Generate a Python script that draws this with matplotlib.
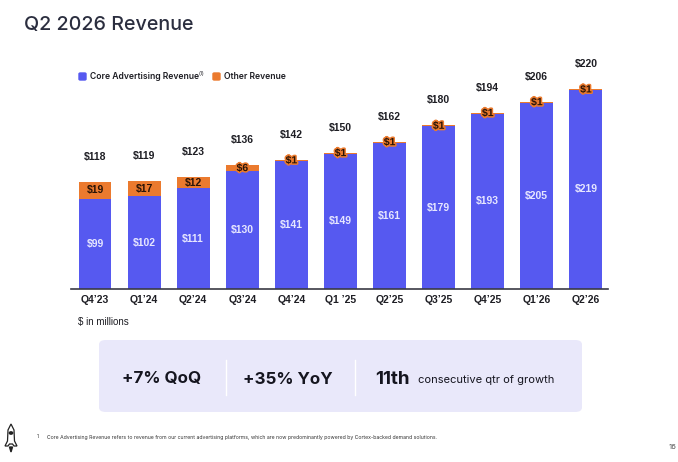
import matplotlib
matplotlib.use("Agg")
import matplotlib.pyplot as plt
import matplotlib.patheffects as pe
from matplotlib import font_manager
from matplotlib.patches import FancyBboxPatch, Polygon, Circle

# -- data ($ in millions) --
quarters = ["Q4’23", "Q1’24", "Q2’24", "Q3’24", "Q4’24", "Q1 ’25",
            "Q2’25", "Q3’25", "Q4’25", "Q1’26", "Q2’26"]
core = [99, 102, 111, 130, 141, 149, 161, 179, 193, 205, 219]
other = [19, 17, 12, 6, 1, 1, 1, 1, 1, 1, 1]
totals = [118, 119, 123, 136, 142, 150, 162, 180, 194, 206, 220]

# -- palette --
BLUE = "#5659F0"
ORANGE = "#EB7A2E"
INK = "#1E1E24"
TITLE = "#2B2E3F"
CORE_TXT = "#E6E6FF"
OTHER_TXT = "#2A1406"
BOX = "#E9E8FA"

W, H = 678, 462

names = {f.name for f in font_manager.fontManager.ttflist}
NARROW = "Liberation Sans Narrow" if "Liberation Sans Narrow" in names else "Liberation Sans"
SANS = "Inter" if "Inter" in names else "DejaVu Sans"


def fx(px):
    return px / W


def fy(py):
    return 1 - py / H


fig = plt.figure(figsize=(W / 100, H / 100), dpi=100)
fig.patch.set_facecolor("white")

ax = fig.add_axes([fx(71), fy(289), fx(608) - fx(71), fy(50) - fy(289)])
ax.set_xlim(-0.49, 10.45)
ax.set_ylim(0, 239 / 0.909)

x = list(range(len(quarters)))
ax.bar(x, core, width=0.67, color=BLUE, zorder=2)
ax.bar(x, other, bottom=core, width=0.67, color=ORANGE, zorder=2)

for i in x:
    ax.annotate(f"${totals[i]}", xy=(i, totals[i]), xytext=(0, 18),
                textcoords="offset points", ha="center", va="center",
                fontsize=7.5, fontweight="bold", color=INK, family=NARROW)
    ax.text(i, core[i] / 2, f"${core[i]}", ha="center", va="center",
            fontsize=7.5, fontweight="bold", color=CORE_TXT, family=NARROW)
    t = ax.text(i, core[i] + other[i] / 2, f"${other[i]}", ha="center",
                va="center", fontsize=7.5, fontweight="bold",
                color=OTHER_TXT, family=NARROW)
    if other[i] < 8:
        t.set_path_effects([pe.withStroke(linewidth=2.2, foreground=ORANGE)])

ax.set_xticks(x)
ax.set_xticklabels(quarters, fontsize=7.5, fontweight="bold", color=INK,
                   family=NARROW)
ax.tick_params(axis="x", length=0, pad=4)
ax.set_yticks([])
for s in ["top", "right", "left"]:
    ax.spines[s].set_visible(False)
ax.spines["bottom"].set_color("#3A3A44")
ax.spines["bottom"].set_linewidth(1.2)
ax.set_facecolor("none")

# -- title / legend --
fig.text(fx(24), fy(25), "Q2 2026 Revenue", fontsize=14.2, fontweight="medium",
         color=TITLE, family=SANS, va="center", ha="left")

fig.patches.append(FancyBboxPatch((fx(79), fy(80)), fx(7), fy(73) - fy(80),
                                  boxstyle="round,pad=0,rounding_size=0.002",
                                  transform=fig.transFigure, color=BLUE))
fig.text(fx(90), fy(76.5), "Core Advertising Revenue", fontsize=6.2,
         fontweight="semibold", color=INK, family=SANS, va="center")
fig.text(fx(199), fy(74), "(1)", fontsize=3.8, color=INK, family=SANS,
         va="center")
fig.patches.append(FancyBboxPatch((fx(213), fy(80)), fx(7), fy(73) - fy(80),
                                  boxstyle="round,pad=0,rounding_size=0.002",
                                  transform=fig.transFigure, color=ORANGE))
fig.text(fx(224), fy(76.5), "Other Revenue", fontsize=6.2,
         fontweight="semibold", color=INK, family=SANS, va="center")

fig.text(fx(78), fy(322), "$ in millions", fontsize=7, color=INK,
         family=NARROW, va="center")

# -- KPI box --
fig.patches.append(FancyBboxPatch((fx(99), fy(412)), fx(582) - fx(99),
                                  fy(340) - fy(412),
                                  boxstyle="round,pad=0,rounding_size=0.01",
                                  transform=fig.transFigure, color=BOX,
                                  linewidth=0))
for dx in (226, 355):
    fig.add_artist(plt.Line2D([fx(dx), fx(dx)], [fy(360), fy(395)],
                              transform=fig.transFigure, color="white",
                              linewidth=1))
fig.text(fx(162), fy(379), "+7% QoQ", fontsize=12.2, fontweight="bold",
         color="#15151F", family=SANS, ha="center", va="center")
fig.text(fx(288), fy(379), "+35% YoY", fontsize=12.2, fontweight="bold",
         color="#15151F", family=SANS, ha="center", va="center")
fig.text(fx(375), fy(379), "11th", fontsize=13.5, fontweight="bold",
         color="#15151F", family=SANS, ha="left", va="center")
fig.text(fx(418), fy(380), "consecutive qtr of growth", fontsize=8.0,
         color="#15151F", family=SANS, ha="left", va="center")

# -- footer --
fig.text(fx(37), fy(437), "1.", fontsize=3.6, color="#333", family=SANS,
         va="center")
fig.text(fx(47), fy(437),
         "Core Advertising Revenue refers to revenue from our current advertising "
         "platforms, which are now predominantly powered by Cortex-backed demand solutions.",
         fontsize=3.7, color="#333", family=SANS, va="center")
fig.text(fx(676), fy(447), "16", fontsize=5.5, color="#555", family=SANS,
         ha="right", va="center")

# small rocket mark
body = [(11, 424), (14, 430), (14.5, 441), (17, 446), (14, 446), (12.5, 444),
        (9.5, 444), (8, 446), (5, 446), (7.5, 441), (8, 430)]
fig.add_artist(Polygon([(fx(a), fy(b)) for a, b in body], closed=True,
                       transform=fig.transFigure, fill=False,
                       edgecolor="#222", linewidth=0.9))
fig.add_artist(Circle((fx(11), fy(433)), 0.0025, transform=fig.transFigure,
                      color="#222"))
flame = [(9.5, 447), (12.5, 447), (11, 452)]
fig.add_artist(Polygon([(fx(a), fy(b)) for a, b in flame], closed=True,
                       transform=fig.transFigure, color="#222"))

fig.savefig("out.png", dpi=100, facecolor="white")
